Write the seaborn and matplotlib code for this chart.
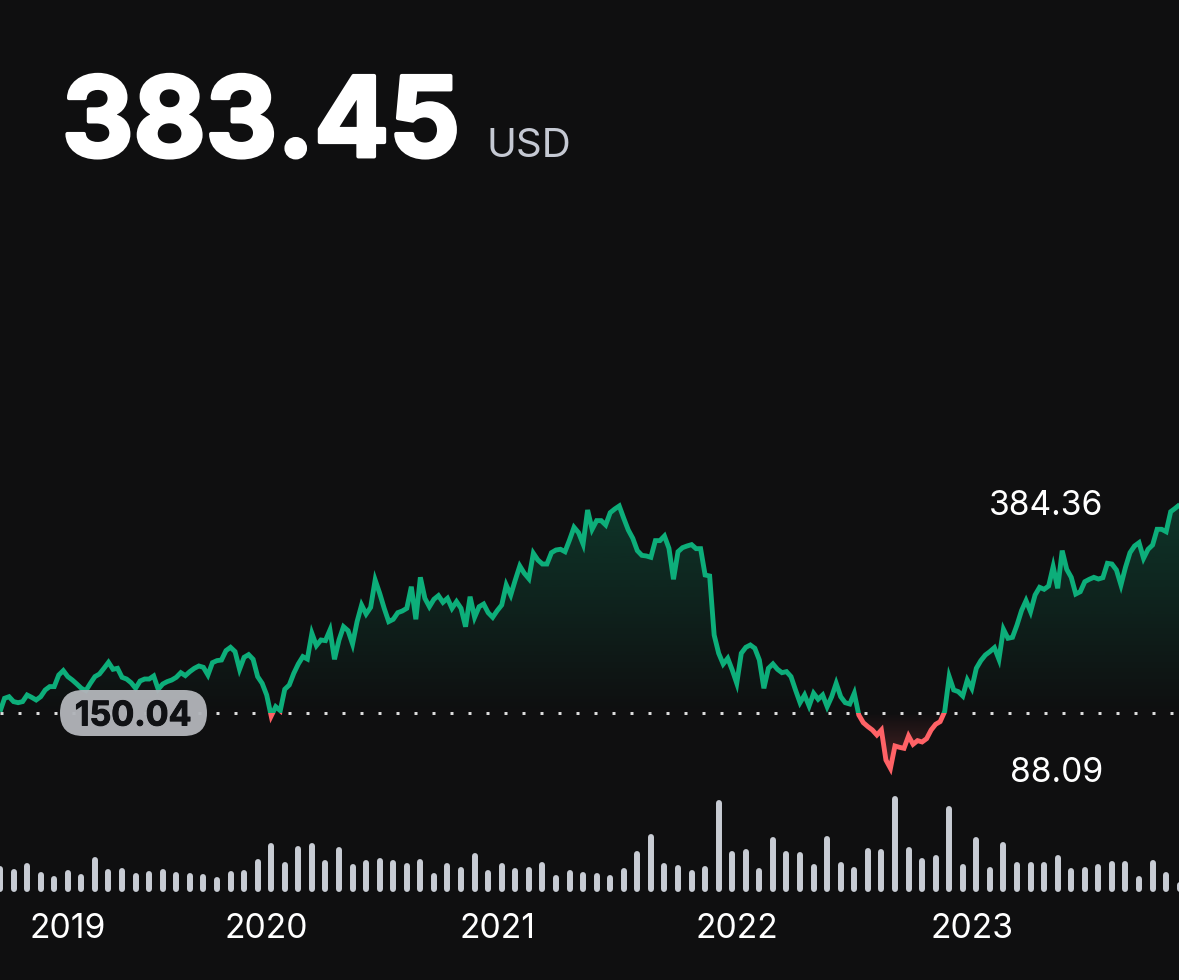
import numpy as np
import pandas as pd
import matplotlib
matplotlib.use("Agg")
import matplotlib.pyplot as plt
import matplotlib.patheffects as pe
from matplotlib.colors import to_rgb
from matplotlib.patches import Rectangle, FancyBboxPatch
from matplotlib.path import Path
from matplotlib.transforms import Affine2D
import seaborn as sns

# ---- data ----
prices = [151.6,166.5,168.3,162.8,161.6,162.8,170.2,167.6,164.6,168.3,175.8,179.6,179.6,192.6,197.5,190.8,
187.0,182.5,177.7,175.1,183.3,190.8,193.7,200.1,206.8,199.0,200.1,190.0,188.1,184.0,177.7,185.9,188.1,188.1,
191.5,176.6,182.5,185.2,187.0,190.0,195.2,191.9,196.4,200.1,202.7,201.2,192.6,206.4,208.7,209.4,219.9,223.6,
218.8,199.0,212.4,215.4,210.2,190.8,183.3,170.2,146.7,157.1,152.7,176.6,181.4,194.5,205.0,213.2,210.5,239.3,
225.5,231.8,231.1,243.0,210.2,231.8,246.7,242.3,227.3,252.4,271.0,260.9,268.4,299.0,284.1,267.3,252.4,255.0,
262.4,264.3,267.3,291.5,255.0,302.0,278.5,269.1,277.4,281.5,274.0,278.5,267.3,274.8,267.3,246.7,280.3,257.2,
269.1,272.1,262.4,257.2,264.7,271.0,293.4,282.2,299.0,314.7,306.5,300.5,328.9,321.4,316.9,316.9,329.6,332.6,
333.4,330.7,343.8,358.0,352.0,339.3,377.4,355.8,365.5,365.5,360.6,374.4,378.5,381.9,368.1,355.0,345.7,331.9,
326.6,325.9,324.4,343.1,343.1,348.3,334.5,299.8,330.7,335.2,337.1,338.6,334.1,334.1,304.6,303.5,237.4,216.9,
204.9,211.3,198.2,183.3,216.9,223.6,226.2,222.5,209.4,177.7,200.1,205.0,199.0,195.2,196.4,190.8,175.8,161.6,
170.2,157.9,172.1,165.4,170.2,157.1,168.3,183.3,168.3,161.6,160.1,172.1,147.8,139.2,134.8,131.0,125.4,131.0,
97.4,88.1,113.1,111.6,110.5,124.3,115.0,119.1,117.6,121.3,131.0,137.4,140.4,151.6,190.8,175.8,174.0,169.1,
187.0,177.7,200.1,208.7,215.0,218.8,223.2,210.2,243.8,233.7,234.8,248.6,264.7,275.9,263.5,282.2,290.8,288.6,
292.3,314.0,289.7,331.9,311.0,302.0,283.3,285.9,297.1,299.8,302.0,300.1,301.6,317.7,316.9,310.2,293.4,313.2,
329.6,337.1,340.8,323.3,333.4,338.2,355.8,355.8,353.1,375.5,379.3,383.45]
volume_tops = [258,268,248,275,288,271,283,230,267,265,279,273,268,277,278,281,291,274,269,238,189,245,197,189,
240,202,251,240,233,239,250,236,278,249,260,219,270,250,265,262,245,284,271,276,278,285,265,214,163,248,254,
271,257,61,213,208,264,172,214,215,252,168,247,262,203,207,49,201,235,224,79,251,172,260,187,245,245,247,224,
263,260,251,244,244,287,241,277,305]
volumes = [335 - t for t in volume_tops]
year_labels = ["2019", "2020", "2021", "2022", "2023"]
year_weeks = [15, 59, 110, 163, 215]
last_price = "383.45"
currency = "USD"
baseline = 150.04
baseline_label = "150.04"
high_label = "384.36"
low_label = "88.09"

BG = "#0f0f10"
GREEN = "#0dae7a"
RED = "#ff6266"
BAR = "#c8ccd4"

W, H = 1179, 980
PX_WEEK = 4.52        # pixels per week
UNIT = 1.12           # price per pixel
VOL_UNIT = 3.0        # volume unit per pixel

sns.set_theme(style="dark", rc={"figure.facecolor": BG, "axes.facecolor": BG, "savefig.facecolor": BG})
plt.rcParams["font.family"] = ["Inter", "Liberation Sans", "DejaVu Sans"]

fig = plt.figure(figsize=(W / 100, H / 100), dpi=100)
ax = fig.add_axes([0, (H - 780) / H, 1, 780 / H])
ax_v = fig.add_axes([0, (H - 891.6) / H, 1, (891.6 - 780) / H])
ax_v.patch.set_alpha(0)

xlim = (0, W / PX_WEEK)
ylim = (baseline - (780 - 713) * UNIT, baseline + 713 * UNIT)

df = pd.DataFrame({"week": np.arange(len(prices)), "price": prices})


def gradient_fill(color, where, y0, y1, alpha):
    """y0 is where the fill is fully transparent, y1 where it is strongest."""
    poly = ax.fill_between(df.week, df.price, baseline, where=where, interpolate=True,
                           facecolor="none", edgecolor="none")
    clip = Path.make_compound_path(*poly.get_paths())
    grad = np.zeros((256, 1, 4))
    grad[..., :3] = to_rgb(color)
    grad[:, 0, 3] = np.linspace(alpha, 0, 256) if y1 > y0 else np.linspace(0, alpha, 256)
    img = ax.imshow(grad, extent=(xlim[0], xlim[1], min(y0, y1), max(y0, y1)),
                    aspect="auto", origin="upper", zorder=1, interpolation="bilinear")
    img.set_clip_path(clip, transform=ax.transData)


gradient_fill(GREEN, df.price >= baseline, baseline, max(prices), 0.24)
gradient_fill(RED, df.price <= baseline, baseline, min(prices), 0.26)

for color, (lo, hi) in ((GREEN, (baseline, ylim[1])), (RED, (ylim[0], baseline))):
    sns.lineplot(data=df, x="week", y="price", ax=ax, color=color, linewidth=3.5,
                 estimator=None, sort=False, zorder=3)
    line = ax.lines[-1]
    line.set_solid_joinstyle("miter")
    line.set_solid_capstyle("butt")
    line.set_clip_path(Rectangle((xlim[0] - 5, lo), xlim[1] - xlim[0] + 10, hi - lo, transform=ax.transData))

# dotted reference line: 3 px dots every 18 px
ax.axhline(baseline, color="#dcdcdc", lw=2.16, zorder=2, dash_capstyle="butt",
           linestyle=(0, (1, 5)))

ax.set_xlim(xlim)
ax.set_ylim(ylim)
ax.set_xticks([]); ax.set_yticks([])
ax.set_xlabel(""); ax.set_ylabel("")
for s in ax.spines.values():
    s.set_visible(False)

# pill, laid out in figure pixels
px = Affine2D().scale(fig.dpi / 100.0) + Affine2D().translate(0, 0)
radius = 23
pill = FancyBboxPatch((60 + radius, H - 713), 147 - 2 * radius, 0.01,
                      boxstyle=f"round,pad={radius - 0.005},rounding_size={radius}",
                      transform=px, fc="#b1b4b9", ec="none", alpha=0.96, zorder=5, clip_on=False)
ax.add_patch(pill)
ax.text(133 / PX_WEEK, baseline, baseline_label, ha="center", va="center_baseline", fontsize=24.5,
        fontweight="bold", color="#101114", zorder=6,
        path_effects=[pe.withStroke(linewidth=0.7, foreground="#101114")])

# high / low labels
ax.text(1103.5 / PX_WEEK, baseline + (713 - 506) * UNIT, high_label, ha="right", va="center",
        fontsize=24.2, color="white", zorder=6)
ax.text(1103 / PX_WEEK, baseline + (713 - 773) * UNIT, low_label, ha="right", va="center",
        fontsize=24.2, color="white", zorder=6)

# volumes: round-ended bars
r = 3 * VOL_UNIT
vol_weeks = np.arange(len(volumes)) * 3
ax_v.vlines(vol_weeks, r, np.array(volumes) - r, color=BAR, lw=4.3, capstyle="round", zorder=3)
ax_v.set_xlim(xlim)
ax_v.set_ylim(0, (891.6 - 780) * VOL_UNIT)
ax_v.set_yticks([])
ax_v.set_xticks(year_weeks)
ax_v.set_xticklabels(year_labels, fontsize=24.2, color="white")
ax_v.tick_params(axis="x", length=0, pad=15.5)
ax_v.set_xlabel(""); ax_v.set_ylabel("")
for s in ax_v.spines.values():
    s.set_visible(False)

# headline
fig.text(62 / W, 1 - 156.5 / H, last_price, fontsize=79.8, fontweight="bold", color="white",
         ha="left", va="baseline", path_effects=[pe.withStroke(linewidth=2.8, foreground="white")])
fig.text(487 / W, 1 - 157 / H, currency, fontsize=29, color="#c5c9d3", ha="left", va="baseline")

fig.savefig("out.png", dpi=100, facecolor=BG)
